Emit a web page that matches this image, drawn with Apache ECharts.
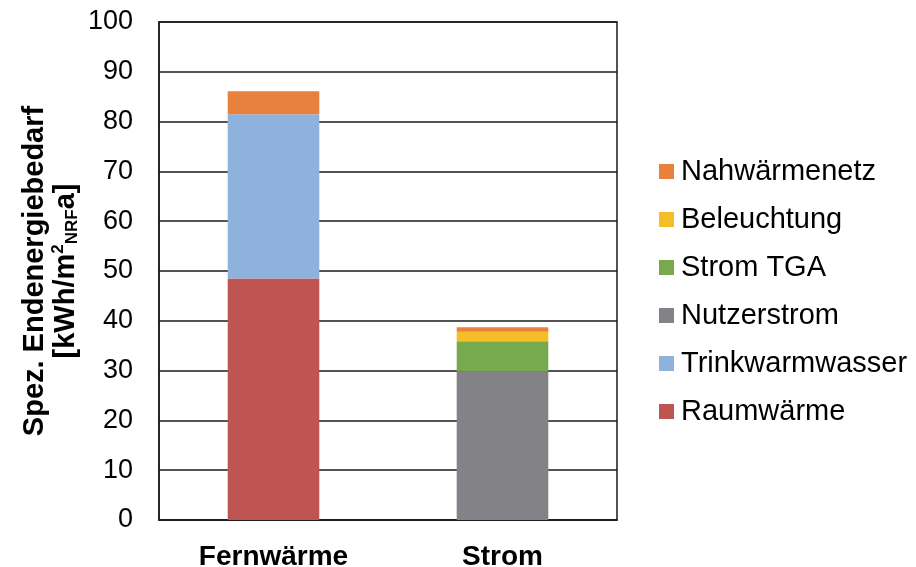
<!DOCTYPE html>
<html>
<head>
<meta charset="utf-8">
<script src="https://cdn.jsdelivr.net/npm/echarts@6/dist/echarts.min.js"></script>
<style>
  html, body { margin: 0; padding: 0; background: #fff; }
  #chart { width: 916px; height: 567px; }
</style>
</head>
<body>
<div id="chart"></div>
<script>
// Supply variants on the x axis
const categories = ['Fernwärme', 'Strom'];

// Stacked components, bottom to top (kWh/m²_NRF·a)
const raumwaerme      = [48.5, null];
const trinkwarmwasser = [33.0, null];
const nutzerstrom     = [null, 29.8];
const stromTGA        = [null, 6.1];
const beleuchtung     = [null, 1.9];
const nahwaermenetz   = [4.6, 0.9];

const yTicks = { min: 0, max: 100, interval: 10 };

const seriesDefs = [
  { name: 'Raumwärme',       data: raumwaerme,      color: '#BE5553' },
  { name: 'Trinkwarmwasser', data: trinkwarmwasser, color: '#8FB2DD' },
  { name: 'Nutzerstrom',     data: nutzerstrom,     color: '#838387' },
  { name: 'Strom TGA',       data: stromTGA,        color: '#77A94F' },
  { name: 'Beleuchtung',     data: beleuchtung,     color: '#F6BE26' },
  { name: 'Nahwärmenetz',    data: nahwaermenetz,   color: '#E8803E' }
];

const font = 'Arial, "Liberation Sans", sans-serif';

const chart = echarts.init(document.getElementById('chart'), null, { renderer: 'canvas' });

chart.setOption({
  animation: false,
  textStyle: { fontFamily: font },
  grid: {
    left: 159, right: 299, top: 22, bottom: 47,
    outerBoundsMode: 'none',
    show: true, borderColor: '#1a1a1a', borderWidth: 1.5, backgroundColor: 'transparent'
  },
  legend: {
    orient: 'vertical',
    left: 659, top: 157,
    padding: 0,
    itemWidth: 15, itemHeight: 15, itemGap: 19,
    icon: 'rect',
    data: seriesDefs.map(s => s.name).reverse(),
    textStyle: { fontSize: 29, color: '#000', fontFamily: font, lineHeight: 29, padding: [0, 0, 0, 2] }
  },
  xAxis: {
    type: 'category',
    data: categories,
    axisLine: { show: true, lineStyle: { color: '#1a1a1a', width: 1.5 } },
    axisTick: { show: false },
    axisLabel: { fontSize: 28, fontWeight: 'bold', color: '#000', margin: 23, fontFamily: font }
  },
  yAxis: {
    type: 'value',
    min: yTicks.min, max: yTicks.max, interval: yTicks.interval,
    axisLine: { show: true, lineStyle: { color: '#1a1a1a', width: 1.5 } },
    axisTick: { show: false },
    splitLine: { show: true, lineStyle: { color: '#1a1a1a', width: 1.5 } },
    axisLabel: { fontSize: 27, color: '#000', margin: 26, fontFamily: font },
    name: '{t|Spez. Endenergiebedarf}\n{t|[kWh/m}{sup|2}{sub|NRF}{t|a]}',
    nameLocation: 'middle',
    nameRotate: 90,
    nameGap: 78,
    nameTextStyle: {
      fontFamily: font,
      rich: {
        t:   { fontSize: 29, fontWeight: 'bold', color: '#000', lineHeight: 31, fontFamily: font },
        sup: { fontSize: 17, fontWeight: 'bold', color: '#000', lineHeight: 17, verticalAlign: 'top', fontFamily: font },
        sub: { fontSize: 17, fontWeight: 'bold', color: '#000', lineHeight: 10, verticalAlign: 'bottom', fontFamily: font }
      }
    }
  },
  series: seriesDefs.map(s => ({
    name: s.name,
    type: 'bar',
    stack: 'total',
    barWidth: '40%',
    data: s.data,
    itemStyle: { color: s.color }
  }))
});
</script>
</body>
</html>
